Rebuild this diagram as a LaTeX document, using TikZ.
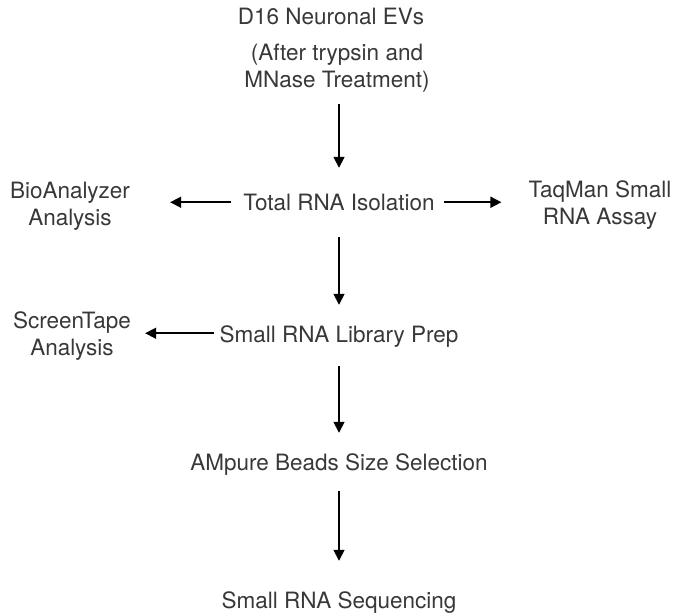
\documentclass[tikz,border=0pt]{standalone}
\usepackage{fontspec}
\setmainfont{TeX Gyre Heros}
\usetikzlibrary{arrows.meta}
\definecolor{txtgray}{HTML}{383838}

\begin{document}
\begin{tikzpicture}[x=1pt, y=-1pt]
  \tikzstyle{stage} = [text=txtgray, inner sep=0pt, text height=19pt, text depth=1.5pt,
                                    font=\fontsize{22.5}{27}\selectfont]
  \tikzstyle{side} = [text=txtgray, inner sep=0pt, align=center,
                                    font=\fontsize{22.5}{27}\selectfont]
  \tikzstyle{flow} = [-{Triangle[length=11pt, width=11pt]}, line width=1.7pt]
\useasboundingbox (0,0) rectangle (675,615);
\node[side, anchor=base] (evs) at (331,25) {D16 Neuronal EVs};
\node[side] (treat) at (337,68) {(After trypsin and\\MNase Treatment)};
\node[stage, anchor=base] (iso) at (339,211) {Total RNA Isolation};
\node[side] (bio) at (70,206) {BioAnalyzer\\Analysis};
\node[side] (taq) at (600,205) {TaqMan Small\\RNA Assay};
\node[stage, anchor=base] (lib) at (339,342) {Small RNA Library Prep};
\node[side] (screen) at (72,336) {ScreenTape\\Analysis};
\node[stage, anchor=base] (amp) at (339,470) {AMpure Beads Size Selection};
\node[stage, anchor=base] (seq) at (339,608) {Small RNA Sequencing};
\draw[flow, shorten <=11.5pt, shorten >=24pt] (treat.south -| iso.north) -- (iso.north);
\draw[flow, shorten <=24.5pt, shorten >=18pt] (iso.south) -- (lib.north);
\draw[flow, shorten <=22.5pt, shorten >=18pt] (lib.south) -- (amp.north);
\draw[flow, shorten <=19.5pt, shorten >=28pt] (amp.south) -- (seq.north);
\draw[flow, shorten <=12pt, shorten >=40pt] (iso.west) -- (iso.west -| bio.east);
\draw[flow, shorten <=9pt, shorten >=27pt] (iso.east) -- (iso.east -| taq.west);
\draw[flow, shorten <=5pt, shorten >=14pt] (lib.west) -- (lib.west -| screen.east);
\end{tikzpicture}
\end{document}
